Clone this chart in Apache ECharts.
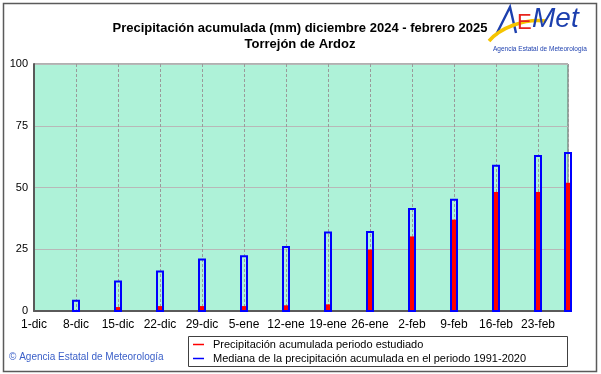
<!DOCTYPE html>
<html>
<head>
<meta charset="utf-8">
<script src="https://cdn.jsdelivr.net/npm/echarts@6/dist/echarts.min.js"></script>
<style>html,body{margin:0;padding:0;background:#fff}#c{width:601px;height:374px}</style>
</head>
<body>
<div id="c"></div>
<script>
// Tick labels (every 7 days from 1 December 2024)
const tickLabels = ['1-dic','8-dic','15-dic','22-dic','29-dic','5-ene','12-ene','19-ene','26-ene','2-feb','9-feb','16-feb','23-feb'];
// Day offsets (from 1-dic) where bars are drawn
const barDays = [7,14,21,28,35,42,49,56,63,70,77,84,89];
// Accumulated precipitation of the studied period (mm)
const observed = [0,1.6,2.0,2.0,2.0,2.3,2.7,24.9,30.2,37.0,48.2,48.2,51.9];
// Median accumulated precipitation 1991-2020 (mm)
const median = [4.2,11.9,16.0,20.8,22.2,25.9,31.8,32.0,41.3,45.0,58.8,62.8,64.0];
const yTicks = [0,25,50,75,100];

const FONT = 'Liberation Sans, Arial, sans-serif';
const chart = echarts.init(document.getElementById('c'), null, {renderer:'canvas'});
const obsData = barDays.map((d,i)=>[d, observed[i]]);
const medData = barDays.map((d,i)=>[d, median[i]]);

function barRenderer(width, fill, stroke, lw){
  return function(params, api){
    const top = api.coord([api.value(0), api.value(1)]);
    const bot = api.coord([api.value(0), 0]);
    return {
      type:'rect',
      shape:{x:Math.round(top[0]) - width/2, y:top[1], width:width, height:bot[1]-top[1]},
      style:{fill:fill, stroke:stroke, lineWidth:lw}
    };
  };
}

chart.setOption({
  animation:false,
  backgroundColor:'#ffffff',
  title:{
    text:'Precipitación acumulada (mm) diciembre 2024 - febrero 2025\nTorrejón de Ardoz',
    left:295, top:15, textAlign:'center',
    textStyle:{fontFamily:FONT, fontSize:13, fontWeight:'bold', color:'#000', lineHeight:16}
  },
  grid:{left:34, right:33, top:64, bottom:63, show:true, backgroundColor:'#aef2d8', borderColor:'#606060', borderWidth:1},
  xAxis:{
    type:'value', min:0, max:89, interval:7,
    axisLine:{show:true, onZero:false, lineStyle:{color:'#5a5a5a', width:2}},
    axisTick:{show:false},
    axisLabel:{show:true, margin:8, showMaxLabel:false, fontFamily:FONT, fontSize:12, color:'#000',
      formatter:function(v){ const i = Math.round(v/7); return (v%7===0 && tickLabels[i]) ? tickLabels[i] : ''; }},
    splitLine:{show:true, lineStyle:{color:'#9a9a9a', type:[3,2], width:1}}
  },
  yAxis:{
    type:'value', min:0, max:100, interval:25,
    axisLine:{show:true, lineStyle:{color:'#5a5a5a', width:2}},
    axisTick:{show:false},
    axisLabel:{margin:6, fontFamily:FONT, fontSize:11, color:'#000',
      formatter:function(v){ return yTicks.indexOf(v)>=0 ? String(v) : ''; }},
    splitLine:{show:true, lineStyle:{color:'#b8b8b8', width:1}}
  },
  legend:{
    orient:'vertical', left:193, top:339, itemGap:3, itemWidth:11, itemHeight:1.5, padding:0,
    textStyle:{fontFamily:FONT, fontSize:11, color:'#000', padding:[0,0,0,4]},
    data:[
      {name:'Precipitación acumulada periodo estudiado', icon:'rect', itemStyle:{color:'#ff0000', borderWidth:0}},
      {name:'Mediana de la precipitación acumulada en el periodo 1991-2020', icon:'rect', itemStyle:{color:'#0000ff', borderWidth:0}}
    ]
  },
  series:[
    {
      name:'Precipitación acumulada periodo estudiado', type:'custom',
      data:obsData, z:2, clip:false,
      encode:{x:0, y:1},
      itemStyle:{color:'#ff0000'},
      renderItem:barRenderer(5, '#ff0000', null, 0)
    },
    {
      name:'Mediana de la precipitación acumulada en el periodo 1991-2020', type:'custom',
      data:medData, z:3, clip:false,
      encode:{x:0, y:1},
      itemStyle:{color:'#0000ff'},
      renderItem:barRenderer(6, null, '#0000ff', 2)
    }
  ],
  graphic:[
    {type:'rect', shape:{x:3.5, y:3.5, width:593, height:368}, style:{fill:null, stroke:'#5a5a5a', lineWidth:1.5}, z:0, silent:true},
    {type:'rect', shape:{x:188.5, y:336.5, width:379, height:30}, style:{fill:null, stroke:'#404040', lineWidth:1}, z:1, silent:true},
    {type:'text', left:9, top:352, style:{text:'© Agencia Estatal de Meteorología', fontFamily:FONT, fontSize:10, fill:'#3a5fc8'}},
    // Logo
    {type:'polyline', shape:{points:[[496,35],[510,7],[516,33]]}, style:{stroke:'#1c3fae', lineWidth:2.4, fill:null}, z:6},
    {type:'bezierCurve', shape:{x1:489, y1:41, x2:546, y2:21, cpx1:500, cpy1:28, cpx2:525, cpy2:18}, style:{stroke:'#f5c400', lineWidth:3.5, fill:null}, z:7},
    {type:'text', left:517, top:12, style:{text:'E', fontFamily:FONT, fontSize:22, fill:'#e8241c'}, z:8},
    {type:'text', left:532, top:5, style:{text:'Met', fontFamily:FONT, fontSize:28, fontStyle:'italic', fill:'#1c3fae'}, z:8},
    {type:'text', left:493, top:46, style:{text:'Agencia Estatal de Meteorología', fontFamily:FONT, fontSize:6.5, fill:'#1c3fae'}, z:6}
  ]
});
</script>
</body>
</html>
